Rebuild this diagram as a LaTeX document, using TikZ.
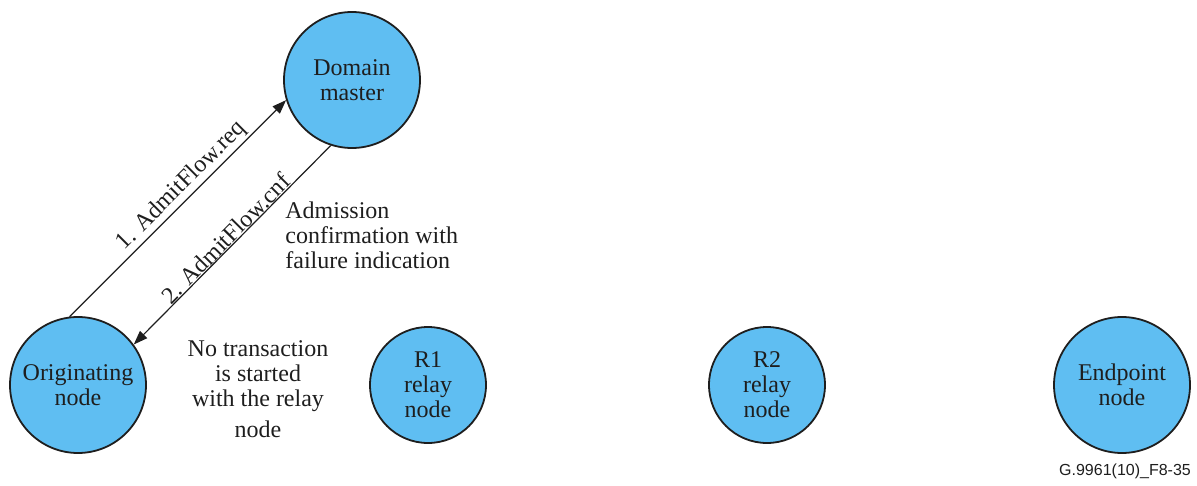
\documentclass[tikz,border=0pt]{standalone}
\usepackage{fontspec}
\setmainfont{Liberation Serif}
\setsansfont{Liberation Sans}
\usepackage{tikz}
\usetikzlibrary{arrows.meta,positioning}
\definecolor{nodeblue}{RGB}{95,190,242}
\definecolor{lineblk} {RGB}{30,30,30}
\tikzset{
  stn/.style={circle,draw=lineblk,fill=nodeblue,line width=0.9pt,
              font=\fontsize{12}{12.5}\selectfont,text=lineblk,
              align=center,inner sep=0pt},
  stnbig/.style={stn,minimum size=68pt},
  stnsmall/.style={stn,minimum size=58pt},
  arr/.style={-{Triangle[length=7pt,width=5pt]},line width=0.6pt,color=lineblk},
  lbl/.style={font=\fontsize{12}{12.5}\selectfont,text=lineblk,inner sep=1pt},
}
\begin{document}
\begin{tikzpicture}[x=0.5pt,y=-0.5pt]
\useasboundingbox (0,0) rectangle (1197,486);
% stations
\node[stnbig]   (dm)   at (352,80)   {Domain\\master};
\node[stnbig]   (orig) at (78,385)   {Originating\\node};
\node[stnsmall] (r1)   at (428,385)  {R1\\relay\\node};
\node[stnsmall] (r2)   at (767,385)  {R2\\relay\\node};
\node[stnbig]   (ep)   at (1122,385) {Endpoint\\node};
% messages
\draw[arr] (orig.97) -- node[lbl,sloped,above=0pt,pos=0.56] {1. AdmitFlow.req} (dm.197);
\draw[arr] (dm.252) -- node[lbl,sloped,above=-1pt,pos=0.5] {2. AdmitFlow.cnf} (orig.36);
% notes
\node[lbl,align=left,anchor=north west] (adm) at (283,199)
  {Admission\\confirmation with\\failure indication};
\node[lbl,align=center,anchor=north] (notx) at (258,338)
  {No transaction\\is started\\with the relay\\[3pt]node};
\node[font=\sffamily\fontsize{8}{9}\selectfont,text=lineblk] (fig) at (1125,471) {G.9961(10)\_F8-35};
\end{tikzpicture}
\end{document}
